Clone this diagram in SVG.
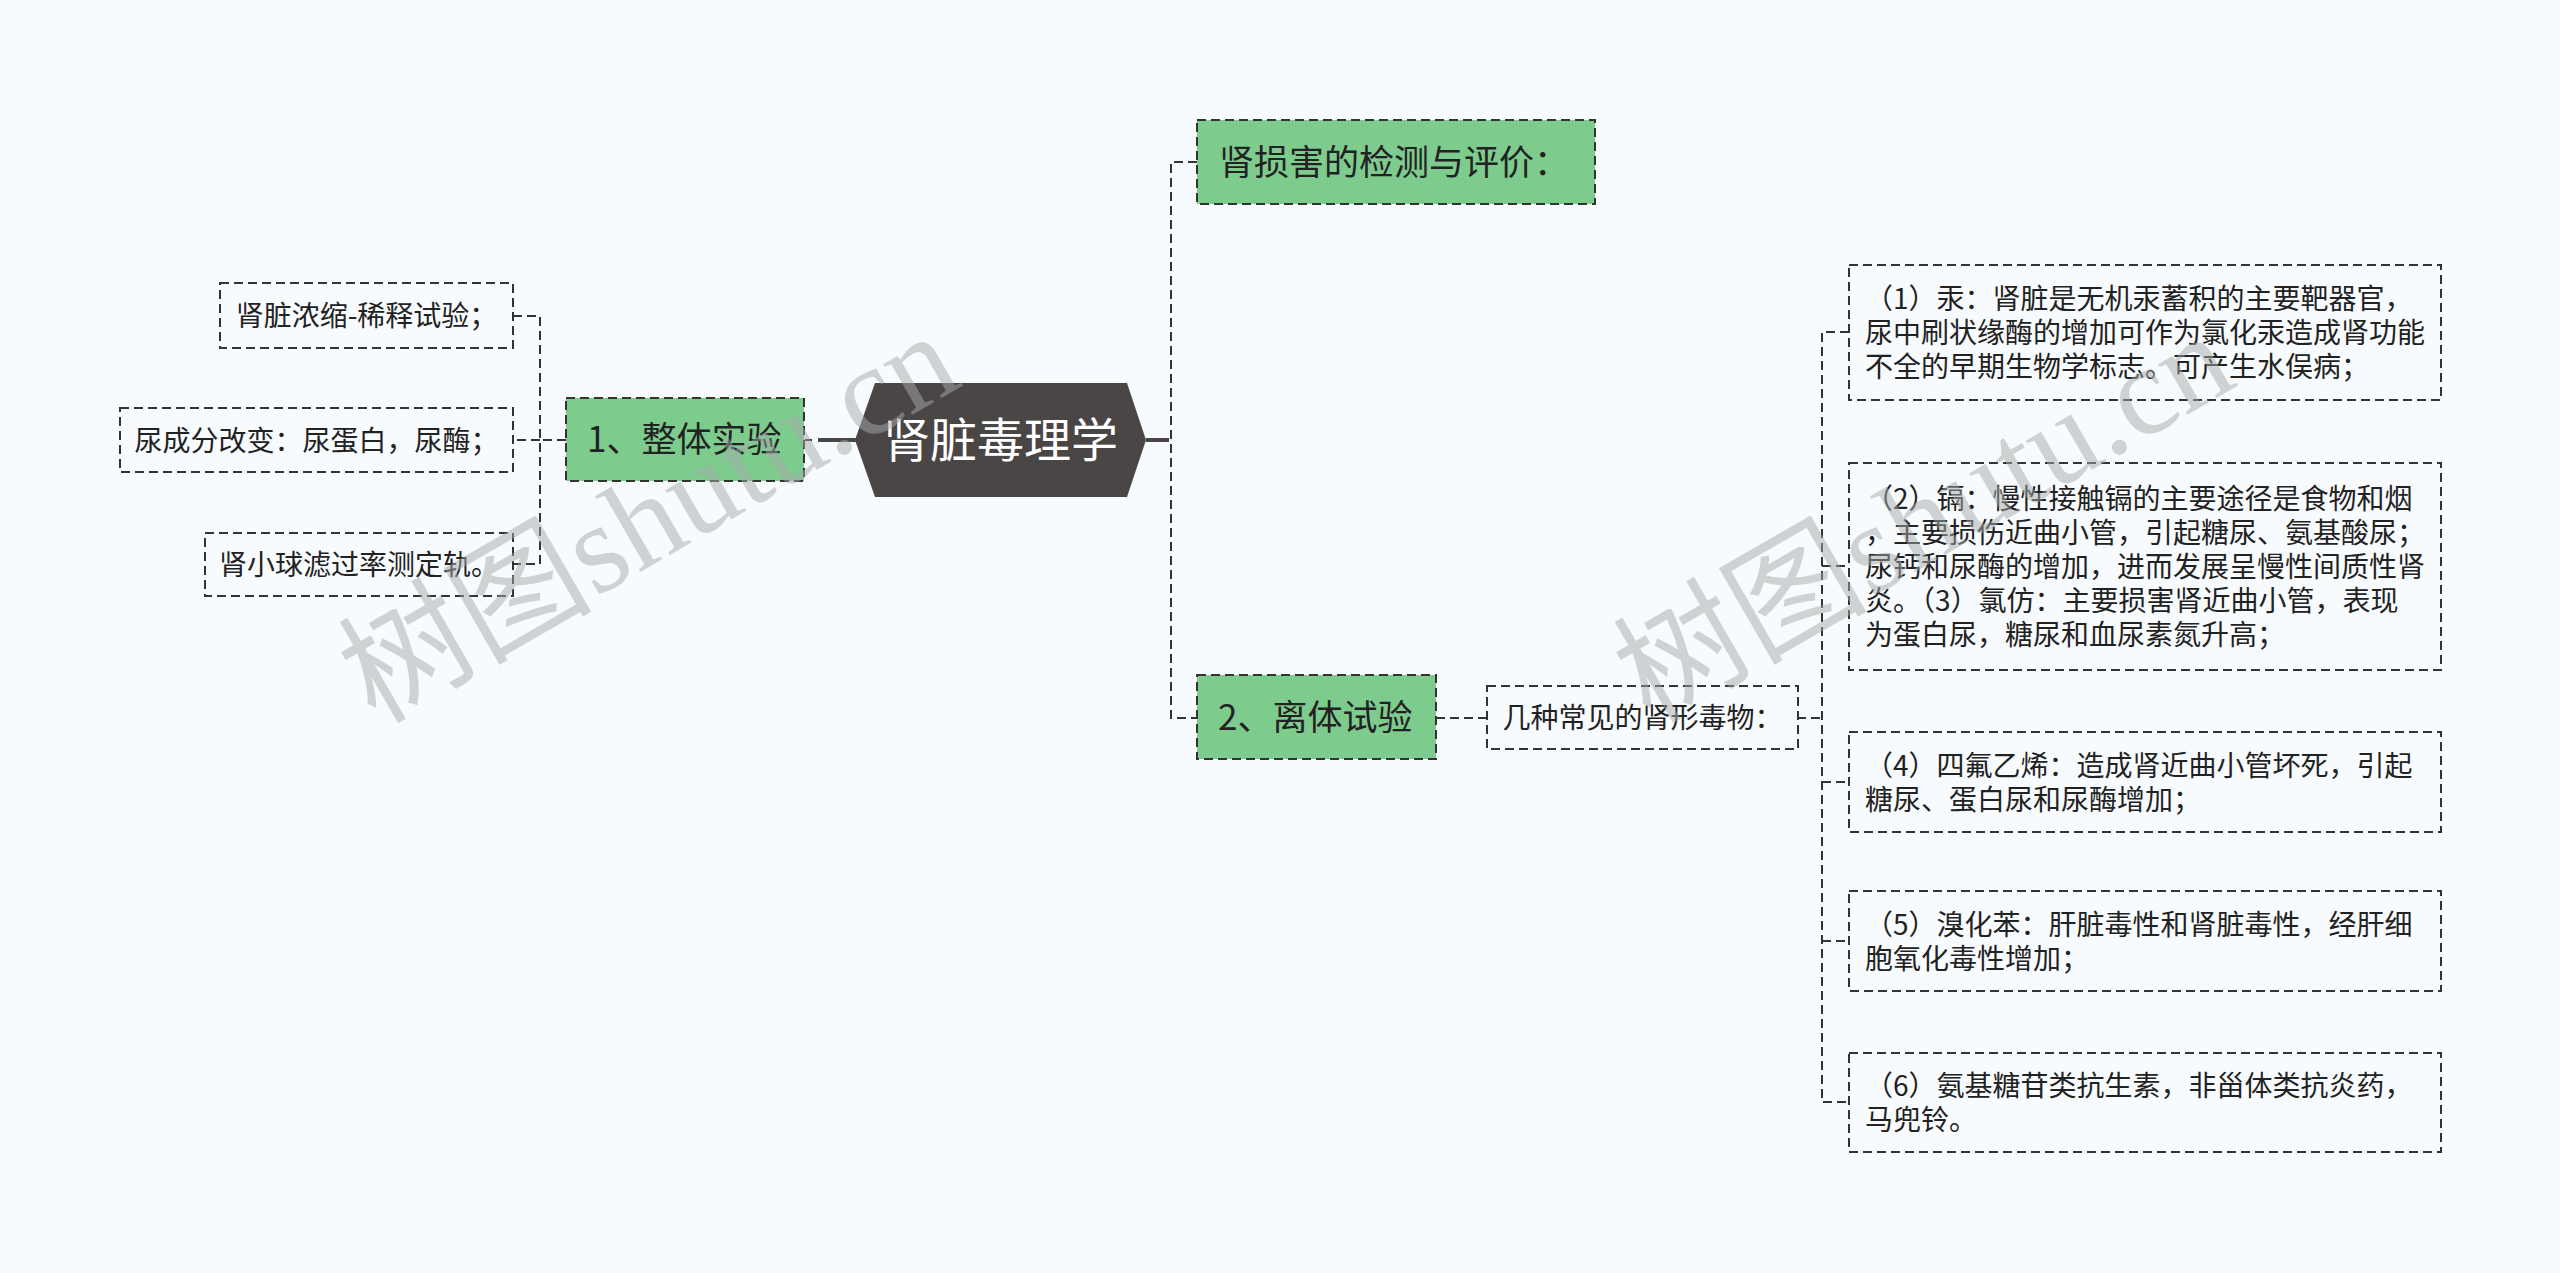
<svg xmlns="http://www.w3.org/2000/svg" width="2560" height="1273" viewBox="0 0 2560 1273">
<style>
  .bg { fill: #f8fbfd; }
  .dash { fill: none; stroke: #333333; stroke-width: 2; stroke-dasharray: 9 5; }
  .leafbox { fill: #f8fbfd; stroke: #333333; stroke-width: 2; stroke-dasharray: 9 5; }
  .greenbox { fill: #7ecb8e; stroke: #333333; stroke-width: 2; stroke-dasharray: 9 5; }
  .solid { fill: none; stroke: #4b4646; stroke-width: 4; }
  .t { font-family: "Noto Sans CJK SC", "Noto Sans", sans-serif; fill: #222222; }
  .s28 { font-size: 28px; }
  .s35 { font-size: 35px; }
  .mid { text-anchor: middle; }
  .wm { font-family: "Liberation Serif", "Noto Sans CJK SC", serif; font-size: 127px; fill: #a6aaaa; opacity: 0.5; }
</style>
<rect class="bg" x="0" y="0" width="2560" height="1273"/>

<g id="connectors">
  <path class="solid" d="M856,440 H818"/>
  <path class="dash" d="M812,440 H805"/>
  <path class="dash" d="M566,440 H540"/>
  <path class="dash" d="M513,316 H540 V564 H513"/>
  <path class="dash" d="M540,440 H513"/>
  <path class="solid" d="M1146,440 H1169"/>
  <path class="dash" d="M1197,162 H1171 V718 H1197"/>
  <path class="dash" d="M1436,718 H1487"/>
  <path class="dash" d="M1797,718 H1822"/>
  <path class="dash" d="M1849,332 H1822 V1102 H1849"/>
  <path class="dash" d="M1822,566 H1849"/>
  <path class="dash" d="M1822,782 H1849"/>
  <path class="dash" d="M1822,941 H1849"/>
</g>

<g id="center">
  <polygon points="855,440 875,383 1127,383 1146,440 1127,497 875,497" fill="#4b4646"/>
  <text x="1000.5" y="457" class="mid" font-family="Noto Sans CJK SC, sans-serif" font-size="47" fill="#ffffff">肾脏毒理学</text>
</g>

<g id="node-whole">
  <rect class="greenbox" x="566" y="398" width="238" height="83"/>
  <text class="t s35" x="587" y="452">1、整体实验</text>
</g>
<g id="leaf-concentration">
  <rect class="leafbox" x="220" y="283" width="293" height="65"/>
  <text class="t s28 mid" x="366.5" y="326">肾脏浓缩-稀释试验；</text>
</g>
<g id="leaf-urine">
  <rect class="leafbox" x="120" y="408" width="393" height="64"/>
  <text class="t s28 mid" x="316.5" y="450.5">尿成分改变：尿蛋白，尿酶；</text>
</g>
<g id="leaf-gfr">
  <rect class="leafbox" x="205" y="533" width="308" height="63"/>
  <text class="t s28 mid" x="359" y="575">肾小球滤过率测定轨。</text>
</g>

<g id="node-detect">
  <rect class="greenbox" x="1197" y="120" width="398" height="84"/>
  <text class="t s35" x="1219" y="174.5">肾损害的检测与评价：</text>
</g>
<g id="node-invitro">
  <rect class="greenbox" x="1197" y="675" width="239" height="84"/>
  <text class="t s35" x="1218" y="729.5">2、离体试验</text>
</g>
<g id="leaf-toxins">
  <rect class="leafbox" x="1487" y="686" width="311" height="63"/>
  <text class="t s28 mid" x="1642.5" y="728">几种常见的肾形毒物：</text>
</g>

<g id="item-1">
  <rect class="leafbox" x="1849" y="265" width="592" height="135"/>
  <text class="t s28" x="1865" y="309">（1）汞：肾脏是无机汞蓄积的主要靶器官，</text>
  <text class="t s28" x="1865" y="343">尿中刷状缘酶的增加可作为氯化汞造成肾功能</text>
  <text class="t s28" x="1865" y="377">不全的早期生物学标志。可产生水俣病；</text>
</g>
<g id="item-2">
  <rect class="leafbox" x="1849" y="463" width="592" height="207"/>
  <text class="t s28" x="1865" y="509">（2）镉：慢性接触镉的主要途径是食物和烟</text>
  <text class="t s28" x="1865" y="543">，主要损伤近曲小管，引起糖尿、氨基酸尿；</text>
  <text class="t s28" x="1865" y="577">尿钙和尿酶的增加，进而发展呈慢性间质性肾</text>
  <text class="t s28" x="1865" y="611">炎。（3）氯仿：主要损害肾近曲小管，表现</text>
  <text class="t s28" x="1865" y="645">为蛋白尿，糖尿和血尿素氮升高；</text>
</g>
<g id="item-4">
  <rect class="leafbox" x="1849" y="732" width="592" height="100"/>
  <text class="t s28" x="1865" y="775.5">（4）四氟乙烯：造成肾近曲小管坏死，引起</text>
  <text class="t s28" x="1865" y="809.5">糖尿、蛋白尿和尿酶增加；</text>
</g>
<g id="item-5">
  <rect class="leafbox" x="1849" y="891" width="592" height="100"/>
  <text class="t s28" x="1865" y="934.5">（5）溴化苯：肝脏毒性和肾脏毒性，经肝细</text>
  <text class="t s28" x="1865" y="968.5">胞氧化毒性增加；</text>
</g>
<g id="item-6">
  <rect class="leafbox" x="1849" y="1053" width="592" height="99"/>
  <text class="t s28" x="1865" y="1096">（6）氨基糖苷类抗生素，非甾体类抗炎药，</text>
  <text class="t s28" x="1865" y="1130">马兜铃。</text>
</g>

<g id="watermarks">
  <text class="wm" x="650" y="560" text-anchor="middle" transform="rotate(-30 650 520)">树图shutu.cn</text>
  <text class="wm" x="1925" y="560" text-anchor="middle" transform="rotate(-30 1925 520)">树图shutu.cn</text>
</g>
</svg>
